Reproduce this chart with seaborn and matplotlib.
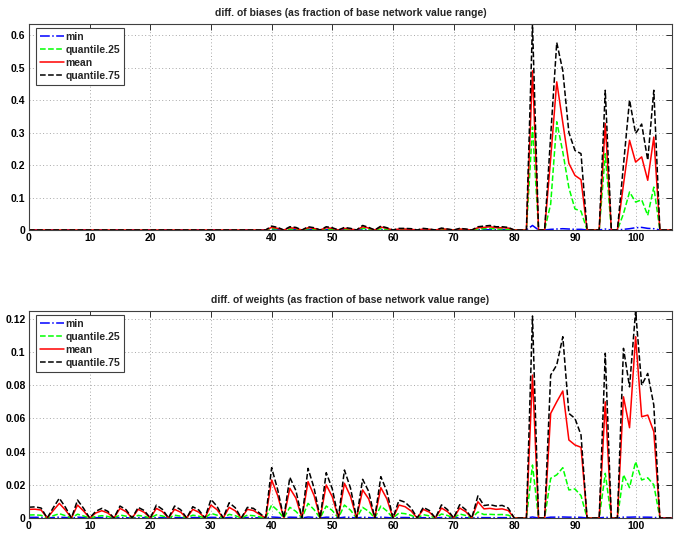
import matplotlib
matplotlib.use("Agg")
import matplotlib.pyplot as plt
import seaborn as sns
from matplotlib.ticker import FuncFormatter

# ---------------- data ----------------
x_index = list(range(107))

series_labels = ["min", "quantile.25", "mean", "quantile.75"]
series_colors = ["#0000FF", "#00FF00", "#FF0000", "#000000"]
series_styles = ["-.", "--", "-", "--"]

# diff. of biases
b_min = [
    0, 0, 0, 0, 0, 0, 0, 0, 0, 0,
    0, 0, 0, 0, 0, 0, 0, 0, 0, 0,
    0, 0, 0, 0, 0, 0, 0, 0, 0, 0,
    0, 0, 0, 0, 0, 0, 0, 0, 0, 0,
    .001, .001, 0, .001, .001, 0, .001, .001, 0, .001,
    .001, 0, .001, 0, 0, .001, .001, 0, .001, .001,
    0, 0, 0, 0, 0, 0, 0, 0, 0, 0,
    0, 0, 0, 0, .001, .001, .001, .001, .001, 0,
    0, 0, 0, .014, 0, 0, .002, .003, .004, .003,
    .002, .002, 0, 0, 0, .003, 0, 0, .002, .004,
    .007, .008, .005, .004, 0, 0, 0]
b_q25 = [
    0, 0, 0, 0, 0, 0, 0, 0, 0, 0,
    0, 0, 0, 0, 0, 0, 0, 0, 0, 0,
    0, 0, 0, 0, 0, 0, 0, 0, 0, 0,
    0, 0, 0, 0, 0, 0, 0, 0, 0, 0,
    .004, .003, 0, .003, .002, 0, .004, .002, 0, .003,
    .002, 0, .002, .001, 0, .005, .003, 0, .004, .002,
    0, .001, .001, .001, 0, .001, .001, 0, .002, .001,
    0, .001, .001, 0, .003, .004, .005, .003, .003, .002,
    0, 0, 0, .317, 0, 0, .08, .333, .24, .13,
    .065, .058, 0, 0, 0, .235, 0, 0, .05, .117,
    .086, .093, .045, .132, 0, 0, 0]
b_mean = [
    0, 0, 0, 0, 0, 0, 0, 0, 0, 0,
    0, 0, 0, 0, 0, 0, 0, 0, 0, 0,
    0, 0, 0, 0, 0, 0, 0, 0, 0, 0,
    0, 0, 0, 0, 0, 0, 0, 0, 0, 0,
    .008, .005, 0, .007, .005, 0, .007, .005, 0, .007,
    .005, 0, .005, .003, 0, .010, .006, 0, .009, .005,
    0, .003, .003, .002, 0, .003, .002, 0, .004, .002,
    0, .003, .002, 0, .007, .008, .010, .007, .007, .006,
    0, 0, 0, .49, 0, 0, .22, .456, .33, .205,
    .168, .155, 0, 0, 0, .328, 0, 0, .14, .276,
    .209, .225, .153, .286, 0, 0, 0]
b_q75 = [
    0, 0, 0, 0, 0, 0, 0, 0, 0, 0,
    0, 0, 0, 0, 0, 0, 0, 0, 0, 0,
    0, 0, 0, 0, 0, 0, 0, 0, 0, 0,
    0, 0, 0, 0, 0, 0, 0, 0, 0, 0,
    .012, .008, 0, .010, .008, 0, .010, .007, 0, .010,
    .007, 0, .008, .005, 0, .014, .008, 0, .012, .007,
    0, .005, .005, .004, 0, .005, .003, 0, .006, .003,
    0, .005, .003, 0, .010, .012, .014, .010, .010, .008,
    0, 0, 0, .634, 0, 0, .29, .577, .49, .30,
    .245, .235, 0, 0, 0, .43, 0, 0, .20, .40,
    .297, .326, .215, .43, 0, 0, 0]

# diff. of weights
w_min = [
    .0004, .0004, .0004, 0, .0003, .0005, .0003, 0, .0005, .0003,
    0, .0002, .0003, .0002, 0, .0003, .0002, 0, .0003, .0002,
    0, .0003, .0002, 0, .0003, .0002, 0, .0003, .0002, 0,
    .0004, .0003, 0, .0003, .0002, 0, .0003, .0002, .0001, 0,
    .0006, .0004, 0, .0005, .0004, 0, .0006, .0004, 0, .0005,
    .0004, 0, .0005, .0004, 0, .0005, .0003, 0, .0005, .0003,
    0, .0003, .0003, .0002, 0, .0002, .0002, 0, .0003, .0002,
    0, .0003, .0002, 0, .0003, .0002, .0002, .0002, .0002, .0002,
    0, 0, 0, .0006, 0, 0, .0005, .0005, .0006, .0005,
    .0005, .0004, 0, 0, 0, .0005, 0, 0, .0005, .0005,
    .0006, .0005, .0005, .0004, 0, 0, 0]
w_q25 = [
    .0018, .0019, .0016, 0, .0014, .0026, .0014, 0, .0023, .0012,
    0, .0009, .0014, .0009, 0, .0018, .0011, 0, .0016, .0010,
    0, .0019, .0012, 0, .0017, .0011, 0, .0017, .0011, 0,
    .0028, .0017, 0, .0022, .0014, 0, .0017, .0014, .0007, 0,
    .0078, .0045, 0, .0064, .0040, 0, .0088, .0050, 0, .0072,
    .0045, 0, .0078, .0047, 0, .0064, .0040, 0, .0072, .0042,
    0, .0030, .0026, .0016, 0, .0020, .0013, 0, .0024, .0015,
    0, .0024, .0015, 0, .0036, .0021, .0022, .0020, .0021, .0017,
    0, 0, 0, .0319, 0, 0, .0239, .0260, .0303, .0169,
    .0175, .0135, 0, 0, 0, .0269, 0, 0, .0260, .0183,
    .0339, .0229, .0242, .0200, 0, 0, 0]
w_mean = [
    .0052, .0053, .0048, 0, .0045, .0088, .0048, 0, .0078, .0042,
    0, .0030, .0044, .0030, 0, .0058, .0038, 0, .0052, .0034,
    0, .0058, .0038, 0, .0052, .0035, 0, .0052, .0035, 0,
    .0078, .0050, 0, .0064, .0043, 0, .0052, .0045, .0022, 0,
    .0229, .0135, 0, .0179, .0120, 0, .0219, .0135, 0, .0199,
    .0128, 0, .0209, .0130, 0, .0169, .0115, 0, .0183, .0115,
    0, .0078, .0068, .0042, 0, .0052, .0035, 0, .0060, .0038,
    0, .0060, .0038, 0, .0098, .0055, .0058, .0052, .0055, .0045,
    0, 0, 0, .0861, 0, 0, .0630, .0700, .0765, .0470,
    .0440, .0426, 0, 0, 0, .0700, 0, 0, .0730, .0544,
    .1092, .0610, .0620, .0520, 0, 0, 0]
w_q75 = [
    .0065, .0067, .0060, 0, .0062, .0119, .0065, 0, .0108, .0058,
    0, .0040, .0058, .0040, 0, .0072, .0050, 0, .0064, .0045,
    0, .0078, .0052, 0, .0072, .0050, 0, .0068, .0048, 0,
    .0112, .0070, 0, .0092, .0062, 0, .0064, .0058, .0030, 0,
    .0303, .0170, 0, .0245, .0165, 0, .0299, .0180, 0, .0273,
    .0175, 0, .0289, .0180, 0, .0233, .0160, 0, .0249, .0160,
    0, .0108, .0095, .0060, 0, .0064, .0045, 0, .0079, .0050,
    0, .0080, .0050, 0, .0133, .0075, .0080, .0072, .0076, .0060,
    0, 0, 0, .1217, 0, 0, .0861, .0922, .1092, .0630,
    .0600, .0500, 0, 0, 0, .0992, 0, 0, .1022, .0790,
    .1247, .0800, .0871, .0680, 0, 0, 0]

title_top = "diff. of biases (as fraction of base network value range)"
title_bottom = "diff. of weights (as fraction of base network value range)"
x_ticks = [0, 10, 20, 30, 40, 50, 60, 70, 80, 90, 100]
y_ticks_top = [0, 0.1, 0.2, 0.3, 0.4, 0.5, 0.6]
y_ticks_bottom = [0, 0.02, 0.04, 0.06, 0.08, 0.1, 0.12]

# ---------------- style ----------------
sns.set_style("white")
plt.rcParams["font.family"] = ["Liberation Sans", "DejaVu Sans"]
plt.rcParams["font.weight"] = "bold"
plt.rcParams["axes.titleweight"] = "bold"

W, H = 677, 534
fig = plt.figure(figsize=(W / 100, H / 100), dpi=100)
ax_top = fig.add_axes([29 / W, 1 - 230 / H, 643 / W, 206 / H])
ax_bot = fig.add_axes([29 / W, 1 - 518 / H, 643 / W, 207 / H])


def draw(ax, series, title, yticks):
    for vals, lab, col, ls in zip(series, series_labels, series_colors, series_styles):
        sns.lineplot(x=x_index, y=vals, ax=ax, color=col, linestyle=ls,
                     linewidth=1.1, label=lab)
    ymax = max(max(s) for s in series)
    ax.set_xlim(0, 106)
    ax.set_ylim(0, ymax)
    ax.set_xticks(x_ticks)
    ax.set_yticks(yticks)
    ax.yaxis.set_major_formatter(FuncFormatter(lambda v, p: f"{v:g}"))
    ax.set_xlabel("")
    ax.set_ylabel("")
    ax.grid(True, linestyle=(0, (1, 2.5)), color="#a8a8a8", linewidth=0.7)
    ax.set_axisbelow(True)
    ax.tick_params(axis="both", direction="in", length=4.5, width=0.7,
                   top=True, right=True, labelsize=7.5, pad=2.5, colors="#303030",
                   labelcolor="black")
    for sp in ax.spines.values():
        sp.set_color("#404040")
        sp.set_linewidth(0.8)
    for lbl in ax.get_xticklabels() + ax.get_yticklabels():
        lbl.set_fontweight("bold")
    ax.set_title(title, fontsize=7.5, fontweight="bold", pad=6)
    h_px = ax.get_position().height * H
    w_px = ax.get_position().width * W
    leg = ax.legend(loc="upper left", bbox_to_anchor=(7 / w_px, 1 - 4 / h_px),
                    borderaxespad=0, frameon=True, fancybox=False, shadow=False,
                    prop={"size": 7.5, "weight": "bold"}, handlelength=2.3,
                    handletextpad=0.2, labelspacing=0.3, borderpad=0.35)
    leg.get_frame().set_edgecolor("#404040")
    leg.get_frame().set_linewidth(0.8)
    leg.get_frame().set_facecolor("white")
    leg.get_frame().set_alpha(1)


draw(ax_top, [b_min, b_q25, b_mean, b_q75], title_top, y_ticks_top)
draw(ax_bot, [w_min, w_q25, w_mean, w_q75], title_bottom, y_ticks_bottom)

fig.savefig("out.png", dpi=100, facecolor="white")
